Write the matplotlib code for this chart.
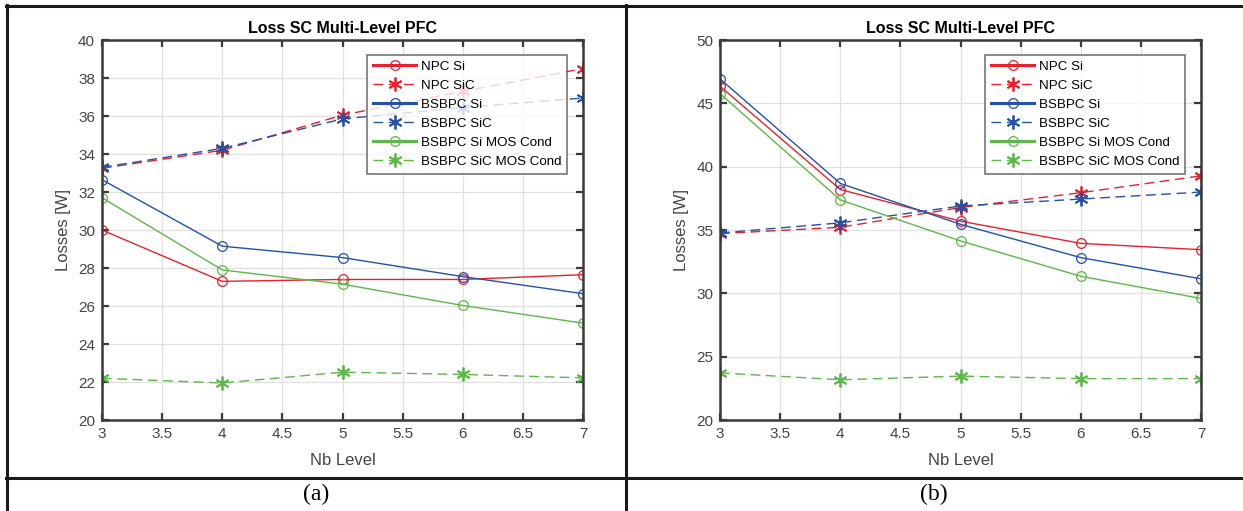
import matplotlib
matplotlib.use('Agg')
import numpy as np
import matplotlib.pyplot as plt
from matplotlib.lines import Line2D

plt.rcParams['font.family'] = ['Liberation Sans', 'DejaVu Sans']

levels = [3, 4, 5, 6, 7]
names = ['NPC Si', 'NPC SiC', 'BSBPC Si', 'BSBPC SiC', 'BSBPC Si MOS Cond', 'BSBPC SiC MOS Cond']

# panel (a)
a_npc_si = [30.0, 27.3, 27.4, 27.4, 27.65]
a_npc_sic = [33.25, 34.2, 36.05, 37.3, 38.5]
a_bsb_si = [32.65, 29.15, 28.55, 27.55, 26.65]
a_bsb_sic = [33.3, 34.3, 35.85, 36.45, 36.95]
a_mos_si = [31.7, 27.9, 27.15, 26.03, 25.1]
a_mos_sic = [22.2, 21.95, 22.52, 22.4, 22.22]

# panel (b)
b_npc_si = [46.35, 38.2, 35.7, 33.95, 33.45]
b_npc_sic = [34.72, 35.22, 36.78, 37.95, 39.28]
b_bsb_si = [46.93, 38.68, 35.45, 32.82, 31.15]
b_bsb_sic = [34.77, 35.57, 36.9, 37.45, 38.0]
b_mos_si = [45.77, 37.38, 34.14, 31.35, 29.6]
b_mos_sic = [23.72, 23.18, 23.47, 23.27, 23.27]

red = '#e8212b'
blue = '#2352a6'
green = '#5cb848'
styles = [(red, '-', 'o'), (red, '--', '*'), (blue, '-', 'o'),
          (blue, '--', '*'), (green, '-', 'o'), (green, '--', '*')]

fig = plt.figure(figsize=(12.43, 5.11), dpi=100)

def panel(rect, series, ylim, yticks):
    ax = fig.add_axes(rect)
    for vals, (c, ls, m), name in zip(series, styles, names):
        if m == 'o':
            ax.plot(levels, vals, color=c, ls=ls, lw=1.0, marker='o', ms=7,
                    mfc='none', mec=c, mew=0.9, label=name)
        else:
            # matlab-like asterisk marker
            ax.plot(levels, vals, color=c, ls=ls, lw=1.0, marker=(6, 2, 0), ms=10,
                    mfc=c, mec=c, mew=1.3, dashes=(7, 4), label=name)
    ax.set_xlim(3, 7)
    ax.set_ylim(*ylim)
    ax.set_xticks(np.arange(3, 7.01, 0.5))
    ax.set_xticklabels(['3', '3.5', '4', '4.5', '5', '5.5', '6', '6.5', '7'])
    ax.set_yticks(yticks)
    ax.grid(True, color='#e0e0e0', lw=0.9)
    ax.set_axisbelow(True)
    for s in ax.spines.values():
        s.set_color('#3a3a3a')
        s.set_linewidth(1.8)
    ax.tick_params(direction='in', top=True, right=True, length=5, width=1.6,
                   color='#3a3a3a', labelsize=11, labelcolor='#444444', pad=5)
    ax.set_title('Loss SC Multi-Level PFC', fontsize=11.5, fontweight='bold', pad=5)
    ax.set_xlabel('Nb Level', fontsize=12, color='#444444', labelpad=9)
    ax.set_ylabel('Losses [W]', fontsize=12, color='#444444', labelpad=5)
    leg = ax.legend(loc='upper right', bbox_to_anchor=(0.967, 0.962), fontsize=9.6,
                    frameon=True, fancybox=False, borderpad=0.45, labelspacing=0.5,
                    handlelength=3.2, handletextpad=0.35, borderaxespad=0.0)
    leg.get_frame().set_edgecolor('#555555')
    leg.get_frame().set_linewidth(1.2)
    for h, (c, ls, m) in zip(leg.legend_handles, styles):
        if ls == '-':
            h.set_linewidth(2.2)
    return ax

panel([0.0821, 0.178, 0.387, 0.7436],
      [a_npc_si, a_npc_sic, a_bsb_si, a_bsb_sic, a_mos_si, a_mos_sic],
      (20, 40), np.arange(20, 41, 2))
panel([0.5793, 0.178, 0.387, 0.7436],
      [b_npc_si, b_npc_sic, b_bsb_si, b_bsb_sic, b_mos_si, b_mos_sic],
      (20, 50), np.arange(20, 51, 5))

# table-like frame around the two panels
W, H = 1243.0, 511.0
def hline(y, x0, x1):
    fig.add_artist(Line2D([x0 / W, x1 / W], [1 - y / H, 1 - y / H], color='#1a1a1a', lw=2.2))
def vline(x, y0, y1):
    fig.add_artist(Line2D([x / W, x / W], [1 - y0 / H, 1 - y1 / H], color='#1a1a1a', lw=2.2))

hline(6, 6, 1243)
hline(478, 6, 1243)
vline(7, 5, 511)
vline(626, 5, 511)

fig.text(316 / W, 1 - 494 / H, '(a)', ha='center', va='center', fontsize=17,
         family='Liberation Serif')
fig.text(934 / W, 1 - 494 / H, '(b)', ha='center', va='center', fontsize=17,
         family='Liberation Serif')

fig.savefig('out.png', dpi=100)
